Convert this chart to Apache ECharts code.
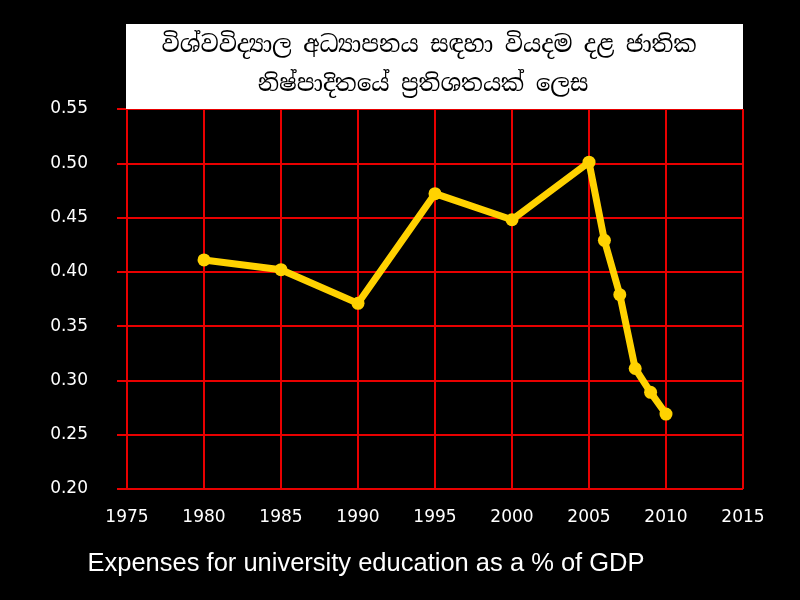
<!DOCTYPE html>
<html lang="si">
<head>
  <meta charset="UTF-8">
  <title>විශ්වවිද්‍යාල අධ්‍යාපනය සඳහා වියදම</title>
  <style>
    html, body { margin: 0; padding: 0; background: #000; }
    #chart { width: 800px; height: 600px; }
  </style>
</head>
<body>
  <div id="chart"></div>

  <script src="https://cdn.jsdelivr.net/npm/echarts@6/dist/echarts.min.js"></script>
  <script>
    // data
    const years = [1980, 1985, 1990, 1995, 2000, 2005, 2006, 2007, 2008, 2009, 2010];
    const gdpShare = [0.411, 0.402, 0.371, 0.472, 0.448, 0.501, 0.429, 0.379, 0.311, 0.289, 0.269];
    const titleLines = ['විශ්වවිද්‍යාල අධ්‍යාපනය සඳහා වියදම දළ ජාතික', 'නිෂ්පාදිතයේ ප්‍රතිශතයක් ලෙස'];
    const caption = 'Expenses for university education as a % of GDP';

    const gridRed = '#e80000';
    const lineGold = '#ffd200';

    const chart = echarts.init(document.getElementById('chart'));

    const points = years.map((y, i) => [y, gdpShare[i]]);

    chart.setOption({
      backgroundColor: '#000',
      animation: false,
      grid: { left: 127, right: 57, top: 109, bottom: 111 },
      xAxis: {
        type: 'value',
        min: 1975, max: 2015, interval: 5,
        axisLine: { show: false },
        axisTick: { show: false },
        splitLine: { show: true, lineStyle: { color: gridRed, width: 2 } },
        axisLabel: {
          color: '#fff', fontFamily: 'DejaVu Sans', fontSize: 17, margin: 20,
          formatter: v => String(v)
        }
      },
      yAxis: {
        type: 'value',
        min: 0.2, max: 0.55, interval: 0.05,
        axisLine: { show: false },
        axisTick: { show: true, length: 10, lineStyle: { color: gridRed, width: 2 } },
        splitLine: { show: true, lineStyle: { color: gridRed, width: 2 } },
        axisLabel: {
          color: '#fff', fontFamily: 'DejaVu Sans', fontSize: 17, margin: 39,
          formatter: v => v.toFixed(2)
        }
      },
      series: [{
        type: 'line',
        data: points,
        symbol: 'circle',
        symbolSize: 13,
        lineStyle: { color: lineGold, width: 7 },
        itemStyle: { color: lineGold }
      }],
      graphic: [
        {
          type: 'rect',
          shape: { x: 126, y: 24, width: 617, height: 85 },
          style: { fill: '#fff' },
          z: 100
        },
        {
          type: 'text', x: 429, y: 46, z: 101,
          style: {
            text: titleLines[0], fill: '#000', fontSize: 23,
            fontFamily: '"Noto Serif Sinhala", "Noto Sans Sinhala", "Iskoola Pota", serif',
            textAlign: 'center', textVerticalAlign: 'middle'
          }
        },
        {
          type: 'text', x: 423, y: 85, z: 101,
          style: {
            text: titleLines[1], fill: '#000', fontSize: 23,
            fontFamily: '"Noto Serif Sinhala", "Noto Sans Sinhala", "Iskoola Pota", serif',
            textAlign: 'center', textVerticalAlign: 'middle'
          }
        },
        {
          type: 'text', x: 366, y: 564, z: 101,
          style: {
            text: caption, fill: '#fff', fontSize: 25.5,
            fontFamily: '"Liberation Sans", Arial, sans-serif',
            textAlign: 'center', textVerticalAlign: 'middle'
          }
        }
      ]
    });
  </script>
</body>
</html>
